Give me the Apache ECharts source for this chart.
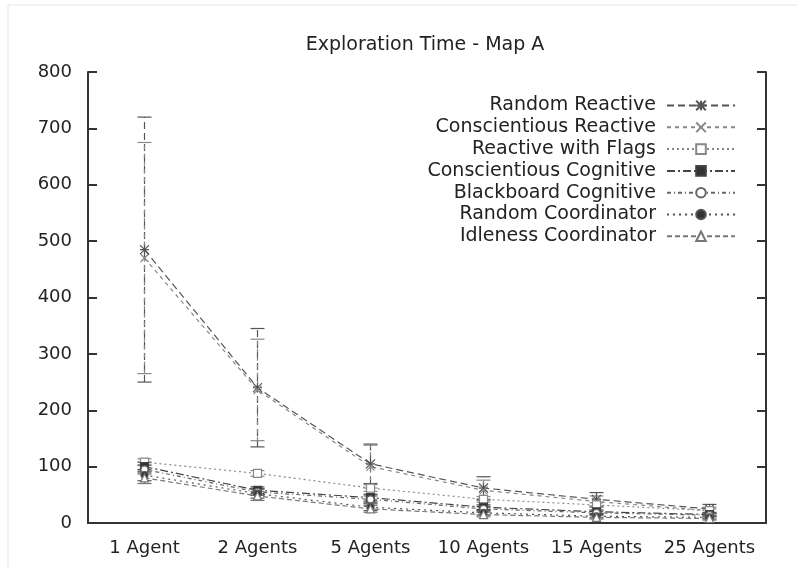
<!DOCTYPE html>
<html><head><meta charset="utf-8">
<script src="https://cdn.jsdelivr.net/npm/echarts@6/dist/echarts.min.js"></script>
<style>html,body{margin:0;padding:0;background:#fff}#c{width:797px;height:569px}</style>
</head><body><div id="c"></div>
<script>
const categories = ['1 Agent','2 Agents','5 Agents','10 Agents','15 Agents','25 Agents'];
const yTicks = [0,100,200,300,400,500,600,700,800];
const seriesNames = ['Random Reactive','Conscientious Reactive','Reactive with Flags','Conscientious Cognitive','Blackboard Cognitive','Random Coordinator','Idleness Coordinator'];
const randomReactive = [485, 240, 105, 62, 42, 25];
const randomReactiveErr = [235, 105, 35, 20, 12, 8];
const conscReactive = [470, 236, 100, 58, 38, 22];
const conscReactiveErr = [205, 90, 38, 18, 10, 6];
const reactiveFlags = [108, 88, 62, 42, 32, 22];
const reactiveFlagsErr = [6, 5, 6, 5, 4, 3];
const conscCognitive = [100, 58, 45, 28, 20, 15];
const conscCognitiveErr = [8, 6, 6, 4, 3, 3];
const blackboardCognitive = [95, 55, 42, 25, 18, 14];
const blackboardCognitiveErr = [8, 6, 6, 4, 3, 3];
const randomCoordinator = [85, 52, 28, 18, 12, 10];
const randomCoordinatorErr = [10, 8, 6, 4, 3, 3];
const idlenessCoordinator = [80, 48, 25, 15, 10, 8];
const idlenessCoordinatorErr = [10, 8, 6, 4, 3, 3];

const values = [randomReactive, conscReactive, reactiveFlags, conscCognitive, blackboardCognitive, randomCoordinator, idlenessCoordinator];
const errors = [randomReactiveErr, conscReactiveErr, reactiveFlagsErr, conscCognitiveErr, blackboardCognitiveErr, randomCoordinatorErr, idlenessCoordinatorErr];

const starPath = 'path://M0,0L10,10M10,0L0,10M5,0L5,10M0,5L10,5';
const xPath = 'path://M0,0L10,10M10,0L0,10';
const styles = [
  {symbol: starPath, dash: [7,4], color:'#555', sym: 9, fill: 'none'},
  {symbol: xPath, dash: [4,4], color:'#888', sym: 8, fill: 'none'},
  {symbol: 'rect', dash: [2,3], color:'#888', sym: 8, fill: '#fff'},
  {symbol: 'rect', dash: [8,3,2,3], color:'#444', sym: 8, fill: '#333'},
  {symbol: 'circle', dash: [4,3,1,3], color:'#666', sym: 7, fill: '#fff'},
  {symbol: 'circle', dash: [2,4], color:'#555', sym: 7, fill: '#333'},
  {symbol: 'triangle', dash: [5,3], color:'#777', sym: 8, fill: '#fff'}
];

const font = '"DejaVu Sans", sans-serif';
const series = [];
values.forEach((vals, i) => {
  const st = styles[i];
  series.push({
    name: seriesNames[i], type: 'line', data: vals,
    symbol: st.symbol, symbolSize: st.sym, showAllSymbol: true,
    lineStyle: {color: st.color, width: 1.2, type: st.dash},
    itemStyle: {color: st.fill === 'none' ? st.color : st.fill, borderColor: st.color, borderWidth: 1.2},
    z: 3
  });
  const errData = vals.map((v, k) => [k, v - errors[i][k], v + errors[i][k]]);
  series.push({
    name: 'err' + i, type: 'custom', data: errData, z: 2,
    renderItem: function (params, api) {
      const x = api.value(0);
      const lo = api.coord([x, api.value(1)]);
      const hi = api.coord([x, api.value(2)]);
      const w = 7;
      const s = {stroke: st.color, lineWidth: 1.2, lineDash: st.dash.length > 2 ? [3,2] : st.dash};
      return {type: 'group', children: [
        {type: 'line', shape: {x1: lo[0], y1: lo[1], x2: hi[0], y2: hi[1]}, style: s},
        {type: 'line', shape: {x1: lo[0]-w, y1: lo[1], x2: lo[0]+w, y2: lo[1]}, style: {stroke: st.color, lineWidth: 1.2}},
        {type: 'line', shape: {x1: hi[0]-w, y1: hi[1], x2: hi[0]+w, y2: hi[1]}, style: {stroke: st.color, lineWidth: 1.2}}
      ]};
    }
  });
});

const chart = echarts.init(document.getElementById('c'), null, {renderer: 'canvas'});
chart.setOption({
  animation: false,
  backgroundColor: '#fff',
  title: {text: 'Exploration Time - Map A', left: 420, top: 31, textAlign: 'center',
    textStyle: {fontFamily: font, fontSize: 19, fontWeight: 'normal', color: '#222'}},
  graphic: [{type: 'rect', shape: {x: 8, y: 5, width: 800, height: 570}, style: {fill: 'none', stroke: '#e6e6e6', lineWidth: 1}, silent: true}],
  legend: {
    data: seriesNames, orient: 'vertical', right: 56, top: 91, align: 'right',
    itemWidth: 68, itemHeight: 12, itemGap: 2.8,
    textStyle: {fontFamily: font, fontSize: 19, lineHeight: 19, color: '#222', padding: [0, 6, 0, 0]}
  },
  grid: {left: 88, right: 31, top: 72, bottom: 46},
  xAxis: [{
    type: 'category', data: categories, boundaryGap: true,
    axisLine: {lineStyle: {color: '#333', width: 2}},
    axisTick: {inside: true, alignWithLabel: true, length: 9, lineStyle: {color: '#333', width: 2}},
    axisLabel: {interval: 0, fontFamily: font, fontSize: 18, color: '#222', margin: 16},
    splitLine: {show: false}
  }, {
    type: 'category', data: categories, position: 'top', boundaryGap: true,
    axisLine: {lineStyle: {color: '#333', width: 2}},
    axisTick: {inside: true, alignWithLabel: true, length: 9, lineStyle: {color: '#333', width: 2}},
    axisLabel: {show: false}
  }],
  yAxis: [{
    type: 'value', min: 0, max: 800, interval: 100,
    axisLine: {show: true, lineStyle: {color: '#333', width: 2}},
    axisTick: {show: true, inside: true, length: 9, lineStyle: {color: '#333', width: 2}},
    axisLabel: {fontFamily: font, fontSize: 18, color: '#222', margin: 16,
      formatter: v => yTicks.includes(v) ? String(v) : ''},
    splitLine: {show: false}
  }, {
    type: 'value', min: 0, max: 800, interval: 100, position: 'right',
    axisLine: {show: true, lineStyle: {color: '#333', width: 2}},
    axisTick: {show: true, inside: true, length: 9, lineStyle: {color: '#333', width: 2}},
    axisLabel: {show: false}, splitLine: {show: false}
  }],
  series: series
});
</script></body></html>
